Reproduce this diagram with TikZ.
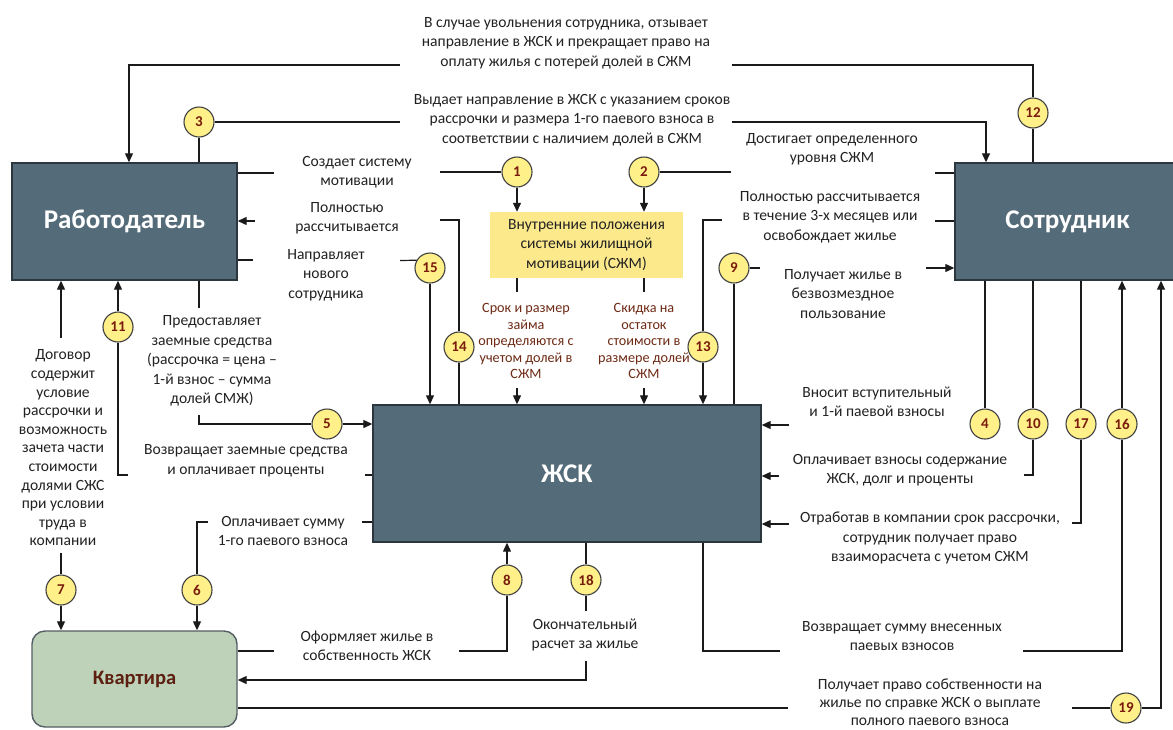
\documentclass[tikz,border=0pt]{standalone}
\usepackage{fontspec}
\setmainfont{Carlito}
\usetikzlibrary{arrows.meta}
\definecolor{boxfill}{HTML}{546B79}
\definecolor{boxline}{HTML}{2B363D}
\definecolor{kvfill}{HTML}{BED2BA}
\definecolor{sjmfill}{HTML}{FCE98C}
\definecolor{numfill}{HTML}{FFF08A}
\definecolor{numtext}{HTML}{7A1C0C}
\definecolor{lbl}{HTML}{222222}
\definecolor{lblred}{HTML}{6E2A14}
\definecolor{kvtext}{HTML}{5C1F10}
\definecolor{wirec}{HTML}{1A1A1A}
\tikzset{
  mainbox/.style={draw=boxline, line width=1.4pt, fill=boxfill, text=white,
    font=\fontsize{27}{30}\selectfont\bfseries, inner sep=0pt},
  kvbox/.style={draw=boxline!80, line width=1.4pt, fill=kvfill, text=kvtext,
    rounded corners=13pt, font=\fontsize{20.5}{24}\selectfont\bfseries, inner sep=0pt},
  sjmbox/.style={fill=sjmfill, text=lbl, align=center, inner sep=0pt,
    font=\fontsize{15.6}{19.5}\selectfont},
  num/.style={circle, draw=black!75, line width=1.1pt, fill=numfill, text=numtext,
    font=\fontsize{15}{15}\selectfont\bfseries, minimum size=30pt, inner sep=0pt},
  lab/.style={align=center, text=lbl, inner sep=0pt, font=\fontsize{15.6}{19.5}\selectfont},
  labsm/.style={align=center, text=lblred, inner sep=0pt, font=\fontsize{14.2}{16.5}\selectfont},
  wire/.style={draw=wirec, line width=1.2pt},
  arrw/.style={wire, -{Triangle[length=9pt,width=8pt]}},
}
\begin{document}
\begin{tikzpicture}[x=1pt,y=-1pt]
\useasboundingbox[fill=white] (0,0) rectangle (1173,729);

% main boxes
\node[mainbox, minimum width=225pt, minimum height=117pt] (emp) at (124.5,221.5) {Работодатель};
\begin{scope}
  \clip (0,0) rectangle (1173,729);
  \node[mainbox, minimum width=225pt, minimum height=117pt] (sot) at (1067.5,221.5) {Сотрудник};
\end{scope}
\node[mainbox, minimum width=388pt, minimum height=137pt] (zsk) at (567,473.5) {ЖСК};
\node[kvbox, minimum width=205pt, minimum height=96pt] (kv) at (134.5,679) {Квартира};
\node[sjmbox, minimum width=193pt, minimum height=66pt] (sjm) at (586.5,245)
  {Внутренние положения\\системы жилищной\\мотивации (СЖМ)};

% numbered circles
\node[num] (c1) at (517,172) {1};
\node[num] (c2) at (644,172) {2};
\node[num] (c3) at (199,122) {3};
\node[num] (c4) at (985,424) {4};
\node[num] (c5) at (327,424) {5};
\node[num] (c6) at (197,590) {6};
\node[num] (c7) at (61,590) {7};
\node[num] (c8) at (507,580) {8};
\node[num] (c9) at (734,268) {9};
\node[num] (c10) at (1033,424) {10};
\node[num] (c11) at (118,327) {11};
\node[num] (c12) at (1033,113) {12};
\node[num] (c13) at (703,347) {13};
\node[num] (c14) at (459,347) {14};
\node[num] (c15) at (430,268) {15};
\node[num] (c16) at (1122,424) {16};
\node[num] (c17) at (1081,424) {17};
\node[num] (c18) at (586,580) {18};
\node[num] (c19) at (1126,708) {19};

% labels
\node[lab] (l12) at (566,43) {В случае увольнения сотрудника, отзывает\\направление в ЖСК и прекращает право на\\оплату жилья с потерей долей в СЖМ};
\node[lab] (l3) at (572,120) {Выдает направление в ЖСК с указанием сроков\\рассрочки и размера 1-го паевого взноса в\\соответствии с наличием долей в СЖМ};
\node[lab] (l1) at (357,172) {Создает систему\\мотивации};
\node[lab] (l2) at (832,149) {Достигает определенного\\уровня СЖМ};
\node[lab] (l14) at (347,218) {Полностью\\рассчитывается};
\node[lab] (l13) at (830,217) {Полностью рассчитывается\\в течение 3-х месяцев или\\освобождает жилье};
\node[lab] (l15) at (326,275) {Направляет\\нового\\сотрудника};
\node[lab] (l9) at (843,294) {Получает жилье в\\безвозмездное\\пользование};
\node[labsm] (la) at (526,341) {Срок и размер\\займа\\определяются с\\учетом долей в\\СЖМ};
\node[labsm] (lb) at (644,341) {Скидка на\\остаток\\стоимости в\\размере долей\\СЖМ};
\node[lab] (l5) at (212,361) {Предоставляет\\заемные средства\\(рассрочка = цена –\\1-й взнос – сумма\\долей СМЖ)};
\node[lab, font=\fontsize{15.6}{18.6}\selectfont] (l7) at (63,448) {Договор\\содержит\\условие\\рассрочки и\\возможность\\зачета части\\стоимости\\долями СЖС\\при условии\\труда в\\компании};
\node[lab] (l11) at (246,461) {Возвращает заемные средства\\и оплачивает проценты};
\node[lab] (l4) at (877,402) {Вносит вступительный\\и 1-й паевой взносы};
\node[lab] (l10) at (900,470) {Оплачивает взносы содержание\\ЖСК, долг и проценты};
\node[lab] (l17) at (930,538) {Отработав в компании срок рассрочки,\\сотрудник получает право\\взаиморасчета с учетом СЖМ};
\node[lab] (l6) at (283,531) {Оплачивает сумму\\1-го паевого взноса};
\node[lab] (l8) at (367,646) {Оформляет жилье в\\собственность ЖСК};
\node[lab] (l18) at (585,635) {Окончательный\\расчет за жилье};
\node[lab] (l16) at (902,636) {Возвращает сумму внесенных\\паевых взносов};
\node[lab, font=\fontsize{15.6}{18}\selectfont] (l19) at (930,702) {Получает право собственности на\\жилье по справке ЖСК о выплате\\полного паевого взноса};

% bend and gap coordinates
\coordinate (g1a) at (274,173);
\coordinate (g1b) at (440,172);
\coordinate (g2a) at (935,173);
\coordinate (g2b) at (731,172);
\coordinate (g3a) at (400,122);
\coordinate (g3b) at (732,122);
\coordinate (g3c) at (986,122);
\coordinate (g12b) at (732,65);
\coordinate (g12c) at (400,65);
\coordinate (g12d) at (129,65);
\coordinate (g14a) at (255,221);
\coordinate (g14b) at (440,220);
\coordinate (g15a) at (253,260);
\coordinate (g15b) at (400,260.5);
\coordinate (g13a) at (935,221);
\coordinate (g13b) at (722,220);
\coordinate (g9a) at (760,268);
\coordinate (g9b) at (926,268);
\coordinate (ga1) at (517,292);
\coordinate (ga2) at (517,388);
\coordinate (gb1) at (644,292);
\coordinate (gb2) at (644,388);
\coordinate (g11a) at (365,475);
\coordinate (g11b) at (128,475);
\coordinate (g7a) at (61,338);
\coordinate (g7b) at (61,553);
\coordinate (g5a) at (199,308);
\coordinate (g5b) at (199,415);
\coordinate (g6a) at (362,522);
\coordinate (g6b) at (208,522);
\coordinate (g8a) at (274,651);
\coordinate (g8b) at (459,651);
\coordinate (g18a) at (586,611);
\coordinate (g18b) at (586,661);
\coordinate (g18c) at (586,680);
\coordinate (g16a) at (703,651);
\coordinate (g16b) at (780,651);
\coordinate (g16c) at (1023,651);
\coordinate (g19a) at (788,708);
\coordinate (g19b) at (1072,708);
\coordinate (g19c) at (1161,708);
\coordinate (g17a) at (1072,523);
\coordinate (g17b) at (789,524);
\coordinate (g10a) at (1024,475);
\coordinate (g10b) at (779,476);
\coordinate (g4a) at (789,425);

% 12
\draw[wire] (sot.north -| c12) -- (c12);
\draw[wire] (c12) |- (g12b);
\draw[arrw] (g12c) -| (emp.north -| g12d);
% 3
\draw[wire] (emp.north -| c3) -- (c3);
\draw[wire] (c3) -- (g3a);
\draw[arrw] (g3b) -| (sot.north -| g3c);
% 1
\draw[wire] (emp.east |- g1a) -- (g1a);
\draw[wire] (g1b) -- (c1);
\draw[arrw] (c1) -- (sjm.north -| c1);
% 2
\draw[wire] (sot.west |- g2a) -- (g2a);
\draw[wire] (g2b) -- (c2);
\draw[arrw] (c2) -- (sjm.north -| c2);
% 14
\draw[arrw] (g14a) -- (emp.east |- g14a);
\draw[wire] (g14b) -| (c14);
\draw[wire] (c14) -- (zsk.north -| c14);
% 15
\draw[wire] (emp.east |- g15a) -- (g15a);
\draw[wire] (g15b) -- (c15.150);
\draw[arrw] (c15) -- (zsk.north -| c15);
% 13
\draw[wire] (sot.west |- g13a) -- (g13a);
\draw[wire] (g13b) -| (c13);
\draw[arrw] (c13) -- (zsk.north -| c13);
% 9
\draw[wire] (zsk.north -| c9) -- (c9);
\draw[wire] (c9) -- (g9a);
\draw[arrw] (g9b) -- (sot.west |- g9b);
% from the internal rules box
\draw[wire] (sjm.south -| ga1) -- (ga1);
\draw[arrw] (ga2) -- (zsk.north -| ga2);
\draw[wire] (sjm.south -| gb1) -- (gb1);
\draw[arrw] (gb2) -- (zsk.north -| gb2);
% 11
\draw[wire] (zsk.west |- g11a) -- (g11a);
\draw[wire] (g11b) -| (c11);
\draw[arrw] (c11) -- (emp.south -| c11);
% 7
\draw[arrw] (g7a) -- (emp.south -| g7a);
\draw[wire] (g7b) -- (c7);
\draw[arrw] (c7) -- (kv.north -| c7);
% 5
\draw[wire] (emp.south -| g5a) -- (g5a);
\draw[wire] (g5b) |- (c5);
\draw[arrw] (c5) -- (zsk.west |- c5);
% 6
\draw[wire] (zsk.west |- g6a) -- (g6a);
\draw[wire] (g6b) -| (c6);
\draw[arrw] (c6) -- (kv.north -| c6);
% 8
\draw[wire] (kv.east |- g8a) -- (g8a);
\draw[wire] (g8b) -| (c8);
\draw[arrw] (c8) -- (zsk.south -| c8);
% 18
\draw[wire] (zsk.south -| c18) -- (c18);
\draw[wire] (c18) -- (g18a);
\draw[arrw] (g18b) |- (kv.east |- g18c);
% 16
\draw[wire] (zsk.south -| g16a) |- (g16b);
\draw[wire] (g16c) -| (c16);
\draw[arrw] (c16) -- (sot.south -| c16);
% 19
\draw[wire] (kv.east |- g19a) -- (g19a);
\draw[wire] (g19b) -- (c19);
\draw[arrw] (c19) -| (sot.south -| g19c);
% 17
\draw[wire] (sot.south -| c17) -- (c17);
\draw[wire] (c17) |- (g17a);
\draw[arrw] (g17b) -- (zsk.east |- g17b);
% 10
\draw[wire] (sot.south -| c10) -- (c10);
\draw[wire] (c10) |- (g10a);
\draw[arrw] (g10b) -- (zsk.east |- g10b);
% 4
\draw[wire] (sot.south -| c4) -- (c4);
\draw[arrw] (g4a) -- (zsk.east |- g4a);
\end{tikzpicture}
\end{document}
